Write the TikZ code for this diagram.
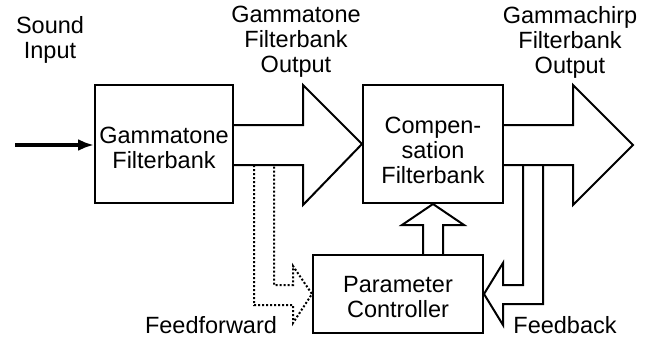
\documentclass[tikz,border=0pt]{standalone}
\usepackage{fontspec}
\setmainfont{Liberation Sans}
\usepackage{tikz}
\usetikzlibrary{arrows.meta}

\begin{document}
\begin{tikzpicture}[x=1pt,y=-1pt,line join=miter,
	blockbox/.style={draw, line width=2.0pt, inner sep=0pt},
	blockarrow/.style={draw, line width=2.0pt},
	tag/.style={inner sep=0pt, align=center},
	every node/.style={font=\fontsize{23.5pt}{25pt}\selectfont}]
	\useasboundingbox (0,0) rectangle (655,340);
	% boxes
	\node[blockbox, minimum width=138, minimum height=118,
		label={[tag, yshift=-4pt]center:Gammatone\\Filterbank}] (gt) at (164.0,144.0) {};
	\node[blockbox, minimum width=140, minimum height=118,
		label={[tag, yshift=-6pt]center:Compen-\\sation\\Filterbank}] (cf) at (433.0,144.0) {};
	\node[blockbox, minimum width=170, minimum height=78,
		label={[tag, yshift=-3pt]center:Parameter\\Controller}] (pc) at (398.0,294.0) {};
	% labels
	\node[tag] (sin) at (50.0,40.0) {Sound\\Input};
	\node[tag] (gto) at (296.0,42.0) {Gammatone\\Filterbank\\Output};
	\node[tag] (gco) at (570.0,42.0) {Gammachirp\\Filterbank\\Output};
	\node[tag] (ff) at (211.0,325.0) {Feedforward};
	\node[tag] (fb) at (565.0,325.0) {Feedback};
	% input
	\coordinate (in) at (15.0,145.0);
	\draw [line width=4.0pt, -{Latex[length=16pt,width=12pt]}] (in) -- (in -| gt.west);
	% gammatone output
	\draw [blockarrow] (gt.east |- 0,125) -- (303.0,125.0) -- (303.0,85.0) -- (cf.west)
		-- (303.0,205.0) -- (303.0,165.0) -- (gt.east |- 0,165);
	% gammachirp output
	\coordinate (out) at (633.0,145.0);
	\draw [blockarrow] (cf.east |- 0,125) -- (573.0,125.0) -- (573.0,85.0) -- (out)
		-- (573.0,205.0) -- (573.0,165.0) -- (cf.east |- 0,165);
	% feedforward
	\draw [line width=2.0pt, dotted] (254.0,165.0) -- (254.0,305.0) -- (293.0,305.0) -- (293.0,323.0)
		-- (pc.west) -- (293.0,266.0) -- (293.0,285.0) -- (274.0,285.0) -- (274.0,165.0);
	% feedback
	\draw [blockarrow] (543.0,165.0) -- (543.0,304.0) -- (503.0,304.0) -- (503.0,325.0)
		-- (pc.east) -- (503.0,263.0) -- (503.0,285.0) -- (523.0,285.0) -- (523.0,165.0);
	% control
	\draw [blockarrow] (423.0,0 |- pc.north) -- (423.0,225.0) -- (402.0,225.0) -- (cf.south)
		-- (464.0,225.0) -- (443.0,225.0) -- (443.0,0 |- pc.north);
\end{tikzpicture}
\end{document}
